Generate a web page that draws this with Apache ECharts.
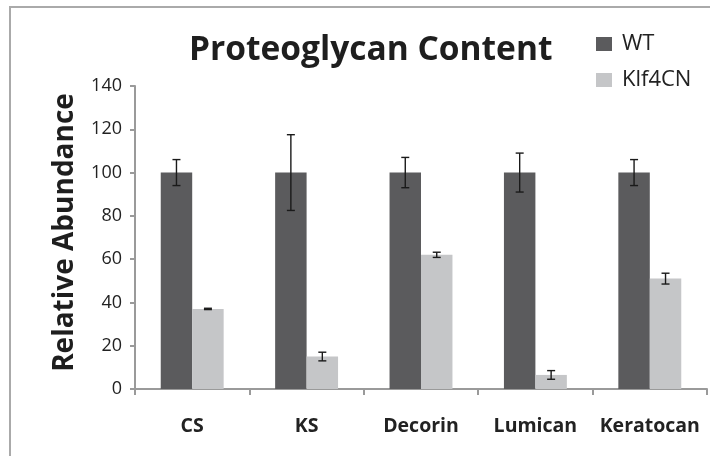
<!DOCTYPE html>
<html lang="en">
<head>
	<meta charset="UTF-8">
	<title>Proteoglycan Content</title>
	<script src="https://cdn.jsdelivr.net/npm/echarts@6/dist/echarts.min.js"></script>
	<style>
		html, body { margin: 0; padding: 0; background: #fff; }
		#chart { width: 710px; height: 456px; }
	</style>
</head>
<body>
	<div id="chart"></div>
	<script>
		var categories = ['CS', 'KS', 'Decorin', 'Lumican', 'Keratocan'];
		var wtMean = [100, 100, 100, 100, 100];
		var wtErr = [6, 17.5, 7, 9, 6];
		var klfMean = [37, 15, 62, 6.5, 51];
		var klfErr = [0.3, 2, 1.2, 2, 2.5];

		var catGap = 0.45; // barCategoryGap

		// error bars, drawn at the centre of each bar
		function errorItem(means, errs, side) {
			return function (params, api) {
				var i = api.value(0);
				var mid = api.coord([i, means[i]]);
				var band = api.size([1, 0])[0];
				var bw = band * (1 - catGap) / 2;
				var x = mid[0] + side * bw / 2;
				var top = api.coord([i, means[i] + errs[i]])[1];
				var bot = api.coord([i, means[i] - errs[i]])[1];
				var st = { stroke: '#1a1a1a', lineWidth: 1.4 };
				return {
					type: 'group',
					children: [
						{ type: 'line', shape: { x1: x, y1: top, x2: x, y2: bot }, style: st },
						{ type: 'line', shape: { x1: x - 4, y1: top, x2: x + 4, y2: top }, style: st },
						{ type: 'line', shape: { x1: x - 4, y1: bot, x2: x + 4, y2: bot }, style: st }
					]
				};
			};
		}

		var myChart = echarts.init(document.getElementById('chart'));
		var option = {
			animation: false,
			title: {
				text: 'Proteoglycan Content',
				left: 184,
				top: 28,
				textStyle: { fontFamily: 'Open Sans', fontWeight: 'bold', fontSize: 33.5, color: '#1e1e1e' }
			},
			legend: {
				orient: 'vertical',
				left: 591,
				top: 28,
				itemWidth: 16,
				itemHeight: 14,
				itemGap: 14,
				icon: 'rect',
				textStyle: { fontFamily: 'Open Sans', fontSize: 22, color: '#222', padding: [0, 0, 0, 5] },
				data: ['WT', 'Klf4CN']
			},
			graphic: [{
				type: 'rect',
				shape: { x: 10, y: 7, width: 720, height: 480 },
				style: { fill: 'none', stroke: '#aaa', lineWidth: 2 },
				silent: true
			}],
			grid: { left: 135, right: 3, top: 86, bottom: 67 },
			xAxis: {
				type: 'category',
				data: categories,
				axisLine: { lineStyle: { color: '#9a9a9a', width: 2 } },
				axisTick: { show: true, length: 6, lineStyle: { color: '#9a9a9a', width: 2 } },
				axisLabel: { interval: 0, margin: 27, fontFamily: 'Open Sans', fontWeight: 'bold', fontSize: 19.5, color: '#222' }
			},
			yAxis: {
				type: 'value',
				min: 0,
				max: 140,
				interval: 20,
				name: 'Relative Abundance',
				nameLocation: 'middle',
				nameGap: 56,
				nameTextStyle: { fontFamily: 'Open Sans', fontWeight: 'bold', fontSize: 28, color: '#1e1e1e', padding: [0, 0, 0, 10] },
				axisLine: { show: true, lineStyle: { color: '#9a9a9a', width: 2 } },
				axisTick: { show: true, length: 5, lineStyle: { color: '#9a9a9a', width: 2 } },
				axisLabel: { margin: 13, fontFamily: 'Open Sans', fontSize: 18, color: '#222' },
				splitLine: { show: false }
			},
			series: [
				{
					name: 'WT',
					type: 'bar',
					data: wtMean,
					barGap: '0%',
					barCategoryGap: (catGap * 100) + '%',
					itemStyle: { color: '#5b5b5d' }
				},
				{
					name: 'Klf4CN',
					type: 'bar',
					data: klfMean,
					itemStyle: { color: '#c5c6c8' }
				},
				{
					type: 'custom',
					renderItem: errorItem(wtMean, wtErr, -1),
					data: categories.map(function (c, i) { return [i]; }),
					z: 10
				},
				{
					type: 'custom',
					renderItem: errorItem(klfMean, klfErr, 1),
					data: categories.map(function (c, i) { return [i]; }),
					z: 10
				}
			]
		};
		myChart.setOption(option);
	</script>
</body>
</html>
